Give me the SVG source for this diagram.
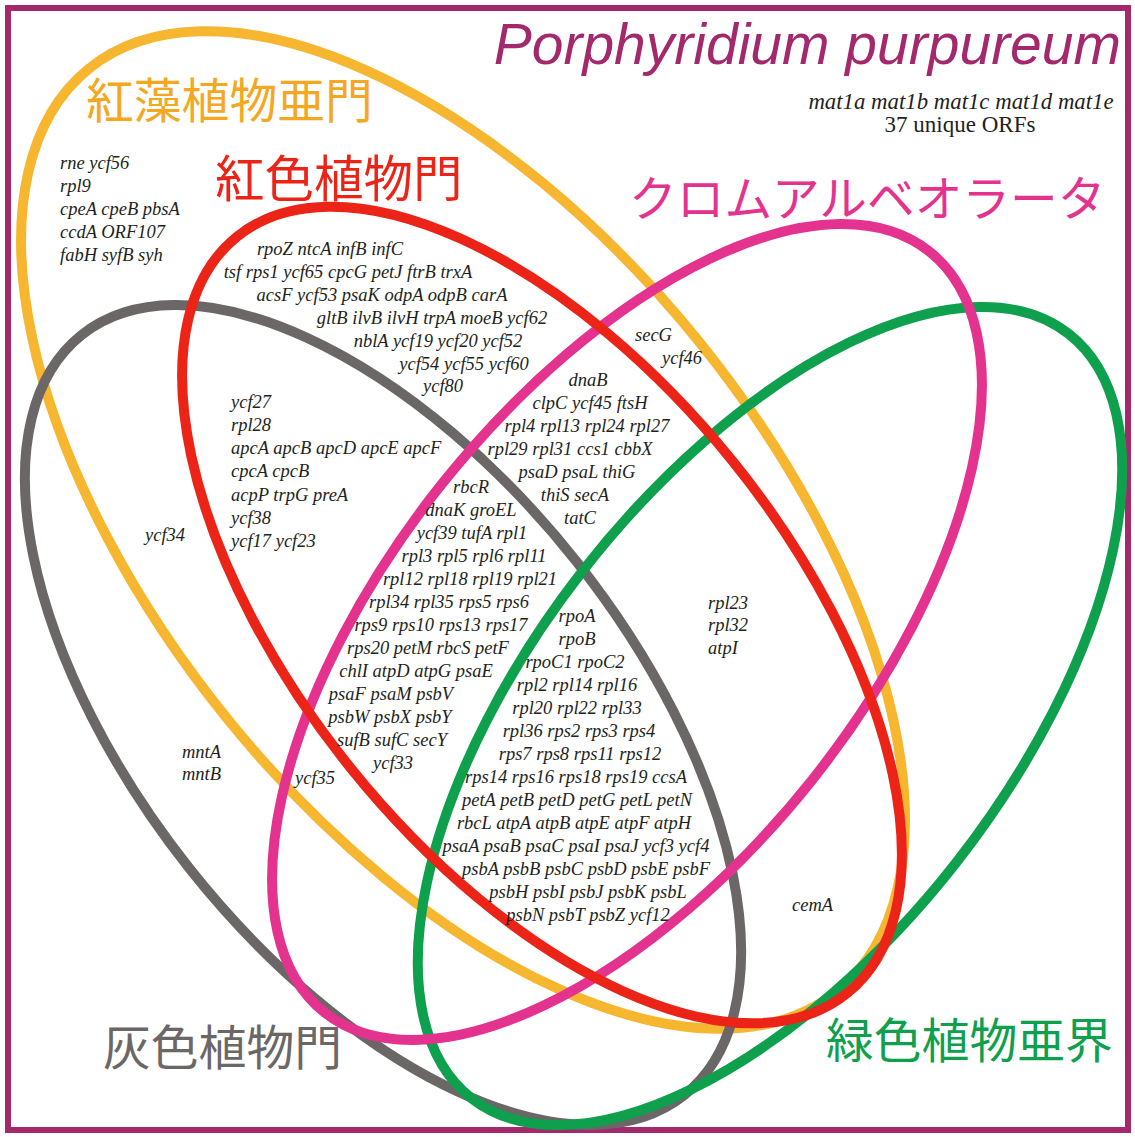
<svg xmlns="http://www.w3.org/2000/svg" width="1135" height="1137" viewBox="0 0 1135 1137">
<style>
.g{font-family:"Liberation Serif","Times New Roman",serif;font-style:italic;font-size:18.5px;fill:#231f20}
.m{text-anchor:middle}
.big{font-family:"Liberation Serif","Times New Roman",serif;fill:#231f20;text-anchor:middle}
.lab{font-family:"Noto Sans CJK JP","Noto Sans CJK SC",sans-serif;font-size:47.8px}
.ell{fill:none;stroke-width:10}
</style>
<rect x="0" y="0" width="1135" height="1137" fill="#ffffff"/>
<rect id="frame" x="8" y="8" width="1120" height="1122" fill="none" stroke="#a3286c" stroke-width="6"/>
<text id="title" x="1121" y="64" font-family="'Liberation Sans',Arial,sans-serif" font-style="italic" font-size="57" fill="#a3286c" text-anchor="end">Porphyridium purpureum</text>

<g id="rhodophytina">
<ellipse class="ell" cx="463" cy="530" rx="594" ry="302" transform="rotate(50.9 463 530)" stroke="#f7b630"/>
<text class="lab" x="86" y="118" fill="#f4a71f">紅藻植物亜門</text>
</g>
<g id="glaucophyta">
<ellipse class="ell" cx="383" cy="715" rx="485" ry="247" transform="rotate(51.6 383 715)" stroke="#6b6767"/>
<text class="lab" x="103" y="1065" fill="#6b6767">灰色植物門</text>
</g>
<g id="viridiplantae">
<ellipse class="ell" cx="770" cy="716" rx="485" ry="237" transform="rotate(-52 770 716)" stroke="#0ea04c"/>
<text class="lab" x="826" y="1058" fill="#0ea04c">緑色植物亜界</text>
</g>
<g id="chromalveolata">
<ellipse class="ell" cx="627" cy="632" rx="486" ry="237" transform="rotate(-51.5 627 632)" stroke="#e3338f"/>
<text class="lab" x="629" y="216" fill="#e3338f" style="font-size:47.7px">クロムアルベオラータ</text>
</g>
<g id="rhodophyta">
<ellipse class="ell" cx="542" cy="615" rx="486" ry="245" transform="rotate(51.1 542 615)" stroke="#ec2417"/>
<text class="lab" x="215" y="197" fill="#ec2417" style="font-size:49.5px">紅色植物門</text>
</g>

<g id="unique">
<text class="big" x="961" y="109" style="font-style:italic;font-size:22.8px">mat1a mat1b mat1c mat1d mat1e</text>
<text class="big" x="960" y="132" style="font-size:23px">37 unique ORFs</text>
</g>

<g id="rhodophytina-only" class="g">
<text x="60" y="169">rne ycf56</text>
<text x="60" y="192">rpl9</text>
<text x="60" y="215">cpeA cpeB pbsA</text>
<text x="60" y="238">ccdA ORF107</text>
<text x="60" y="261">fabH syfB syh</text>
</g>

<g id="rhodophyta-block" class="g m">
<text x="330" y="255">rpoZ ntcA infB infC</text>
<text x="348" y="278">tsf rps1 ycf65 cpcG petJ ftrB trxA</text>
<text x="382" y="301">acsF ycf53 psaK odpA odpB carA</text>
<text x="432" y="324">gltB ilvB ilvH trpA moeB ycf62</text>
<text x="438" y="347">nblA ycf19 ycf20 ycf52</text>
<text x="464" y="370">ycf54 ycf55 ycf60</text>
<text x="443" y="392">ycf80</text>
</g>

<g id="rhodo-glauco" class="g">
<text x="231" y="408">ycf27</text>
<text x="231" y="431">rpl28</text>
<text x="231" y="454">apcA apcB apcD apcE apcF</text>
<text x="231" y="477">cpcA cpcB</text>
<text x="231" y="501">acpP trpG preA</text>
<text x="231" y="524">ycf38</text>
<text x="231" y="547">ycf17 ycf23</text>
</g>

<g id="rhodo-chromalv" class="g m">
<text x="588" y="386">dnaB</text>
<text x="590" y="409">clpC ycf45 ftsH</text>
<text x="587" y="432">rpl4 rpl13 rpl24 rpl27</text>
<text x="570" y="455">rpl29 rpl31 ccs1 cbbX</text>
<text x="577" y="478">psaD psaL thiG</text>
<text x="575" y="501">thiS secA</text>
<text x="580" y="524">tatC</text>
</g>

<g id="rhodo-glauco-chromalv" class="g m">
<text x="471" y="493">rbcR</text>
<text x="471" y="516">dnaK groEL</text>
<text x="472" y="539">ycf39 tufA rpl1</text>
<text x="474" y="562">rpl3 rpl5 rpl6 rpl11</text>
<text x="470" y="585">rpl12 rpl18 rpl19 rpl21</text>
<text x="449" y="608">rpl34 rpl35 rps5 rps6</text>
<text x="441" y="631">rps9 rps10 rps13 rps17</text>
<text x="428" y="654">rps20 petM rbcS petF</text>
<text x="416" y="677">chlI atpD atpG psaE</text>
<text x="391" y="700">psaF psaM psbV</text>
<text x="390" y="723">psbW psbX psbY</text>
<text x="392" y="746">sufB sufC secY</text>
<text x="393" y="769">ycf33</text>
</g>

<g id="core" class="g m">
<text x="577" y="622">rpoA</text>
<text x="577" y="645">rpoB</text>
<text x="575" y="668">rpoC1 rpoC2</text>
<text x="577" y="691">rpl2 rpl14 rpl16</text>
<text x="577" y="714">rpl20 rpl22 rpl33</text>
<text x="579" y="737">rpl36 rps2 rps3 rps4</text>
<text x="580" y="760">rps7 rps8 rps11 rps12</text>
<text x="576" y="783">rps14 rps16 rps18 rps19 ccsA</text>
<text x="577" y="806">petA petB petD petG petL petN</text>
<text x="574" y="829">rbcL atpA atpB atpE atpF atpH</text>
<text x="576" y="852">psaA psaB psaC psaI psaJ ycf3 ycf4</text>
<text x="586" y="875">psbA psbB psbC psbD psbE psbF</text>
<text x="588" y="898">psbH psbI psbJ psbK psbL</text>
<text x="588" y="921">psbN psbT psbZ ycf12</text>
</g>

<g id="others" class="g">
<text x="635" y="341">secG</text>
<text x="662" y="364">ycf46</text>
<text x="145" y="541">ycf34</text>
<text x="182" y="758">mntA</text>
<text x="182" y="780">mntB</text>
<text x="295" y="784">ycf35</text>
<text x="708" y="609">rpl23</text>
<text x="708" y="631">rpl32</text>
<text x="708" y="654">atpI</text>
<text x="792" y="911">cemA</text>
</g>
</svg>
